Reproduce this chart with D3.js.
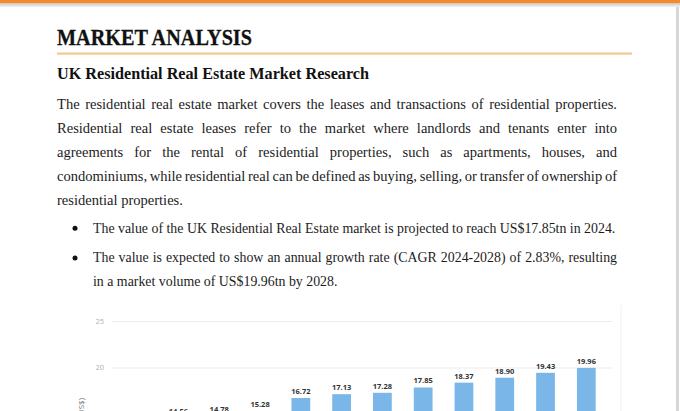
<!DOCTYPE html>
<html>
<head>
<meta charset="utf-8">
<script src="https://cdn.jsdelivr.net/npm/d3@7"></script>
<style>
  html, body { margin: 0; padding: 0; background: #fff; }
  svg { display: block; }
</style>
</head>
<body>
<svg id="page" width="680" height="411"></svg>
<script>
// ---- data ----
const categories = ["2017","2018","2019","2020","2021","2022","2023","2024","2025","2026","2027","2028"];
const values = [14.20, 14.56, 14.78, 15.28, 16.72, 17.13, 17.28, 17.85, 18.37, 18.90, 19.43, 19.96];
const yTicks = [0, 5, 10, 15, 20, 25];
const yLabel = "Value in trillion (US$)";

const titleText = "MARKET ANALYSIS";
const subtitleText = "UK Residential Real Estate Market Research";
const bodyLines = [
  "The residential real estate market covers the leases and transactions of residential properties.",
  "Residential real estate leases refer to the market where landlords and tenants enter into",
  "agreements for the rental of residential properties, such as apartments, houses, and",
  "condominiums, while residential real can be defined as buying, selling, or transfer of ownership of",
  "residential properties."
];
const bulletLines = [
  "The value of the UK Residential Real Estate market is projected to reach US$17.85tn in 2024.",
  "The value is expected to show an annual growth rate (CAGR 2024-2028) of 2.83%, resulting",
  "in a market volume of US$19.96tn by 2028."
];

// ---- page ----
const svg = d3.select("#page");
const serif = "'Liberation Serif', 'Times New Roman', serif";
const sans = "'Open Sans', 'Noto Sans', sans-serif";

const defs = svg.append("defs");
const g1 = defs.append("linearGradient").attr("id","topgray").attr("x1",0).attr("y1",0).attr("x2",0).attr("y2",1);
g1.append("stop").attr("offset","0%").attr("stop-color","#c9c9c9");
g1.append("stop").attr("offset","100%").attr("stop-color","#f4f4f4");

svg.append("rect").attr("x",0).attr("y",0).attr("width",680).attr("height",3.5).attr("fill","#f28b30");
svg.append("rect").attr("x",0).attr("y",3.5).attr("width",680).attr("height",3.5).attr("fill","url(#topgray)");
svg.append("rect").attr("x",676).attr("y",7).attr("width",3).attr("height",404).attr("fill","#d6d6d6");

// Title
svg.append("text").attr("x",57).attr("y",45)
  .attr("font-family",serif).attr("font-weight","bold").attr("font-size",24)
  .attr("fill","#111").attr("stroke","#111").attr("stroke-width",0.3)
  .attr("textLength",195).attr("lengthAdjust","spacingAndGlyphs")
  .text(titleText);
svg.append("rect").attr("x",57).attr("y",52.5).attr("width",575).attr("height",2.2).attr("fill","#f3c992");

// Subtitle
svg.append("text").attr("x",57).attr("y",79)
  .attr("font-family",serif).attr("font-weight","bold").attr("font-size",17)
  .attr("fill","#111").attr("textLength",312).attr("lengthAdjust","spacingAndGlyphs")
  .text(subtitleText);

function measure(str, size) {
  const t = svg.append("text").attr("font-family",serif).attr("font-size",size).text(str);
  const w = t.node().getComputedTextLength();
  t.remove();
  return w;
}
const bodySize = 14 * 126 / measure(bodyLines[4], 14);
const bulletSize = 14 * 523 / measure(bulletLines[0], 14);

function lineText(str, x, y, target, size) {
  const t = svg.append("text").attr("x",x).attr("y",y)
    .attr("font-family",serif).attr("font-size",size).attr("fill","#1c1c1c")
    .attr("xml:space","preserve").text(str);
  if (target) {
    const w = t.node().getComputedTextLength();
    const n = (str.match(/ /g) || []).length;
    if (n > 0) t.attr("word-spacing", (target - w) / n);
  }
  return t;
}

const bodyBase = [108.5, 132.8, 156.8, 180.8, 204.5];
bodyLines.forEach((s, i) => lineText(s, 57, bodyBase[i], i < 4 ? 560 : null, bodySize));

const bulletBase = [232.5, 262.3, 286.3];
const bulletTargets = [null, 524, null];
bulletLines.forEach((s, i) => lineText(s, 93, bulletBase[i], bulletTargets[i], bulletSize));
[0, 1].forEach(i => svg.append("circle").attr("cx",75).attr("cy",bulletBase[i]-4.2).attr("r",2.5).attr("fill","#111"));

// ---- chart ----
svg.append("line").attr("x1",621).attr("x2",621).attr("y1",305).attr("y2",411)
  .attr("stroke","#f1f1f1").attr("stroke-width",1);

const x = d3.scaleBand().domain(categories).range([112, 612]).paddingInner(0.54).paddingOuter(0.4);
const y = d3.scaleLinear().domain([0, 25]).range([553.5, 321]);

const chart = svg.append("g");
const yAxis = d3.axisLeft(y).tickValues(yTicks).tickSize(-500).tickPadding(8);
const ag = chart.append("g").attr("transform","translate(112,0)").call(yAxis);
ag.select(".domain").remove();
ag.selectAll(".tick line").attr("stroke","#ececec").attr("stroke-width",1);
ag.selectAll(".tick text").attr("fill","#b0b0b0").attr("font-family",sans).attr("font-size",7.5);

chart.append("text")
  .attr("transform","translate(84,398) rotate(-90)")
  .attr("text-anchor","end").attr("font-family",sans).attr("font-size",8).attr("fill","#777")
  .text(yLabel);

chart.selectAll("rect.bar").data(values).join("rect").attr("class","bar")
  .attr("x",(d,i)=>x(categories[i])).attr("width",x.bandwidth())
  .attr("y",d=>y(d)).attr("height",d=>y(0)-y(d))
  .attr("fill","#7ab7e8");

chart.selectAll("text.lbl").data(values).join("text").attr("class","lbl")
  .attr("x",(d,i)=>x(categories[i]) + x.bandwidth()/2).attr("y",d=>y(d)-4)
  .attr("text-anchor","middle").attr("font-family",sans).attr("font-weight","bold")
  .attr("font-size",7.5).attr("fill","#333")
  .text(d=>d.toFixed(2));
</script>
</body>
</html>
